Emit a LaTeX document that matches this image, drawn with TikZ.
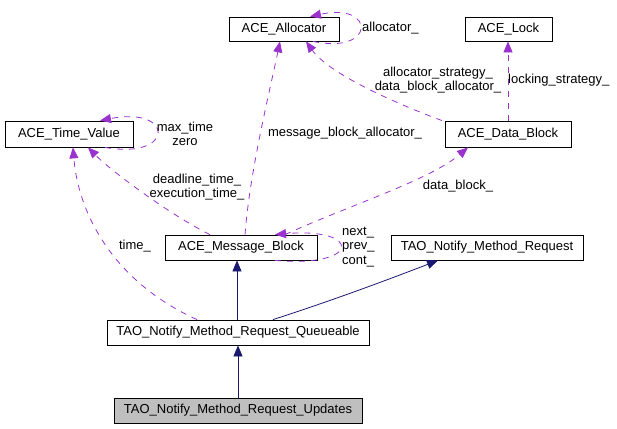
\documentclass[tikz,border=0pt]{standalone}
\usepackage{fontspec}
\setmainfont{Liberation Sans}
\usetikzlibrary{arrows.meta}
\definecolor{dep}{HTML}{9A32CD}
\definecolor{inh}{HTML}{191970}
\begin{document}
\begin{tikzpicture}[x=1pt,y=-1pt,
  font=\fontsize{13}{14.5}\selectfont,
  box/.style={draw,line width=0.8pt,inner sep=0pt,minimum height=25pt},
  uses/.style={draw=dep,line width=0.8pt,dash pattern=on 6pt off 6pt,-{Triangle[length=11pt,width=9pt,fill=dep]}},
  isa/.style={draw=inh,line width=0.8pt,-{Triangle[length=11pt,width=9pt,fill=inh]}},
  lbl/.style={inner sep=0pt,align=center}]
  \useasboundingbox (0,0) rectangle (617,428);

  \node[box,minimum width=110pt,minimum height=24pt] (alloc) at (284,29) {ACE\_Allocator};
  \node[box,minimum width=87pt,minimum height=24pt] (lock) at (508.5,29) {ACE\_Lock};
  \node[box,minimum width=126pt,minimum height=26pt] (datab) at (508,134) {ACE\_Data\_Block};
  \node[box,minimum width=128pt,minimum height=26pt] (timev) at (69,134) {ACE\_Time\_Value};
  \node[box,minimum width=152pt] (msgb) at (241,247.5) {ACE\_Message\_Block};
  \node[box,minimum width=192pt] (req) at (487,247.5) {TAO\_Notify\_Method\_Request};
  \node[box,minimum width=262pt] (queue) at (238,332.5) {TAO\_Notify\_Method\_Request\_Queueable};
  \node[box,minimum width=248pt,fill=black!25] (upd) at (238,410.5) {TAO\_Notify\_Method\_Request\_Updates};

  \draw[isa] (upd) -- (queue);
  \draw[isa] ([xshift=-1pt]queue.north) -- ([xshift=-4pt]msgb.south);
  \draw[isa] ([xshift=35pt]queue.north) .. controls (340,298) and (400,275) .. ([xshift=-49pt]req.south);

  \draw[uses] ([xshift=-41pt]queue.north) .. controls (110,280) and (78,210) .. ([xshift=4pt]timev.south);
  \draw[uses] ([xshift=-31pt]msgb.north) .. controls (170,215) and (110,170) .. ([xshift=19pt]timev.south);
  \draw[uses] ([xshift=4pt]msgb.north) .. controls (250,170) and (270,90) .. ([xshift=-4pt]alloc.south);
  \draw[uses] ([xshift=34pt]msgb.south) .. controls (362,268) and (362,227) .. ([xshift=34pt]msgb.north);
  \draw[uses] ([xshift=44pt]msgb.north) .. controls (350,205) and (430,180) .. ([xshift=-40pt]datab.south);
  \draw[uses] ([xshift=-66pt]datab.north) .. controls (400,105) and (330,75) .. ([xshift=22pt]alloc.south);
  \draw[uses] (datab.north) -- (datab.north |- lock.south);
  \draw[uses] ([xshift=29pt]alloc.south) .. controls (376,55) and (376,2) .. ([xshift=26pt]alloc.north);
  \draw[uses] ([xshift=36pt]timev.south) .. controls (175,160) and (175,106) .. ([xshift=31pt]timev.north);

  \node[lbl,anchor=west] (lalloc) at (362,28) {allocator\_};
  \node[lbl] (lstrat) at (438,80) {allocator\_strategy\_\\data\_block\_allocator\_};
  \node[lbl,anchor=west] (llock) at (508,80) {locking\_strategy\_};
  \node[lbl] (lmax) at (185,134) {max\_time\\zero};
  \node[lbl] (lmba) at (345,133) {message\_block\_allocator\_};
  \node[lbl] (ldb) at (458,186) {data\_block\_};
  \node[lbl] (ldead) at (197,187) {deadline\_time\_\\execution\_time\_};
  \node[lbl] (ltime) at (135,246) {time\_};
  \node[lbl,anchor=west,align=left] (lnext) at (342,247) {next\_\\prev\_\\cont\_};
\end{tikzpicture}
\end{document}
